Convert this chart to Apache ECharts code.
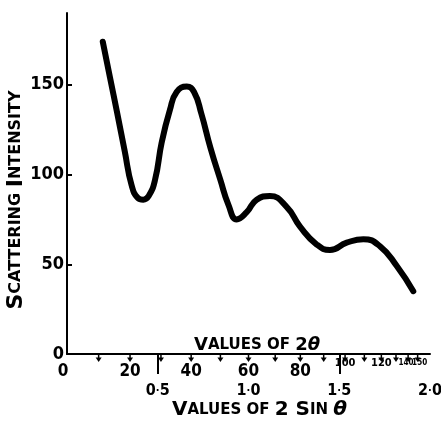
<!DOCTYPE html>
<html><head><meta charset="utf-8">
<script src="https://cdn.jsdelivr.net/npm/echarts@6/dist/echarts.min.js"></script>
<style>html,body{margin:0;padding:0;background:#fff}#c{width:441px;height:421px}</style>
</head><body><div id="c"></div>
<script>
// x: values of 2 sin(theta); y: scattering intensity
const sinValues = [0.197,0.237,0.275,0.318,0.356,0.390,0.420,0.450,0.485,0.522,0.567,0.604,0.660,0.700,0.740,0.790,0.845,0.890,0.935,0.990,1.045,1.118,1.210,1.284,1.376,1.449,1.541,1.633,1.725,1.817,1.908];
const intensity = [174,154,135,113,94,87,86,88,97,118,136,146,149,146,134,115,97,83,75,79,86,88,82,71,61,58,62,64,60,49,35];
const yTickLabels = [0,50,100,150];
const yTickMarks = [50,100,150];
const sinTickLabels = [0.5,1.0,1.5,2.0];
const sinTickMarks = [0.5,1.5];
const twoThetaLabels = [0,20,40,60,80,100,120,140,150];
const twoThetaArrows = [10,20,30,40,50,60,70,80,90,100,110,120,130,140,150];

const FN = "'DejaVu Sans Condensed',sans-serif";
const FT = "'DejaVu Sans',sans-serif";
const toSin = d => 2*Math.sin(d*Math.PI/360);

const chart = echarts.init(document.getElementById('c'), null, {renderer:'canvas'});
chart.setOption({
  animation:false,
  backgroundColor:'#fff',
  title:{
    text:'{a|V}{b|ALUES OF }{a|2}{c|θ}',
    left:189, top:331,
    textStyle:{rich:{
      a:{fontFamily:FT,fontWeight:'bold',fontSize:18,color:'#000'},
      b:{fontFamily:FT,fontWeight:'bold',fontSize:15,color:'#000'},
      c:{fontFamily:FT,fontWeight:'bold',fontStyle:'italic',fontSize:18,color:'#000'}
    }}
  },
  grid:{left:67,right:11,top:13,bottom:67,outerBoundsMode:'none'},
  xAxis:{
    type:'value', min:0, max:2,
    axisLine:{show:true,lineStyle:{color:'#000',width:2}},
    axisTick:{show:true,customValues:sinTickMarks,length:20,inside:false,lineStyle:{color:'#000',width:2}},
    axisLabel:{customValues:sinTickLabels,margin:29,
      formatter:v=>{const s=v.toFixed(1).split('.');return '{d|'+s[0]+'}{p|·}{d|'+s[1]+'}';},
      rich:{
        d:{fontFamily:FN,fontWeight:'bold',fontSize:16,color:'#000'},
        p:{fontFamily:FN,fontWeight:'bold',fontSize:11,color:'#000',verticalAlign:'middle'}
      }},
    splitLine:{show:false},
    name:'{a|V}{b|ALUES OF }{a|2 S}{b|IN }{c|θ}',
    nameLocation:'middle', nameGap:46, nameMoveOverlap:false,
    nameTextStyle:{padding:[0,0,0,22],rich:{
      a:{fontFamily:FT,fontWeight:'bold',fontSize:20,color:'#000'},
      b:{fontFamily:FT,fontWeight:'bold',fontSize:15,color:'#000'},
      c:{fontFamily:FT,fontWeight:'bold',fontStyle:'italic',fontSize:20,color:'#000'}
    }}
  },
  yAxis:{
    type:'value', min:0, max:190,
    axisLine:{show:true,lineStyle:{color:'#000',width:2}},
    axisTick:{show:true,customValues:yTickMarks,inside:true,length:5,lineStyle:{color:'#000',width:2}},
    axisLabel:{customValues:yTickLabels,margin:3,fontFamily:FN,fontWeight:'bold',fontSize:18,color:'#000'},
    splitLine:{show:false},
    name:'{a|S}{b|CATTERING }{a|I}{b|NTENSITY}',
    nameLocation:'middle', nameRotate:90, nameGap:40, nameMoveOverlap:false,
    nameTextStyle:{padding:[0,33,0,0],rich:{
      a:{fontFamily:FT,fontWeight:'bold',fontSize:22,color:'#000'},
      b:{fontFamily:FT,fontWeight:'bold',fontSize:16,color:'#000'}
    }}
  },
  series:[
    {type:'line', data:sinValues.map((x,i)=>[x,intensity[i]]), smooth:0.5, symbol:'none',
      lineStyle:{color:'#000',width:6,cap:'round',join:'round'}},
    {type:'custom', clip:false, data:twoThetaLabels.map(d=>[d]),
      renderItem:(params,api)=>{
        const d = api.value(0);
        const p = api.coord([toSin(d),0]);
        const small = d>=100, tiny = d>=140;
        const dx = d===0?-4:(d===140?-2:(d===150?2:0));
        return {type:'text', x:p[0]+dx, y:p[1]+(small?9:18),
          style:{text:String(d), fontFamily:FN, fontWeight:'bold', fontSize:tiny?8:(small?11:17),
            fill:'#000', align:'center', verticalAlign:'middle'}};
      }},
    {type:'custom', clip:false, data:twoThetaArrows.map(d=>[d]),
      renderItem:(params,api)=>{
        const d = api.value(0);
        const p = api.coord([toSin(d),0]);
        return {type:'group', children:[
          {type:'line', shape:{x1:p[0],y1:p[1],x2:p[0],y2:p[1]+5}, style:{stroke:'#000',lineWidth:1.5}},
          {type:'polygon', shape:{points:[[p[0]-3,p[1]+3.5],[p[0]+3,p[1]+3.5],[p[0],p[1]+8]]}, style:{fill:'#000'}}
        ]};
      }}
  ]
});
</script></body></html>
